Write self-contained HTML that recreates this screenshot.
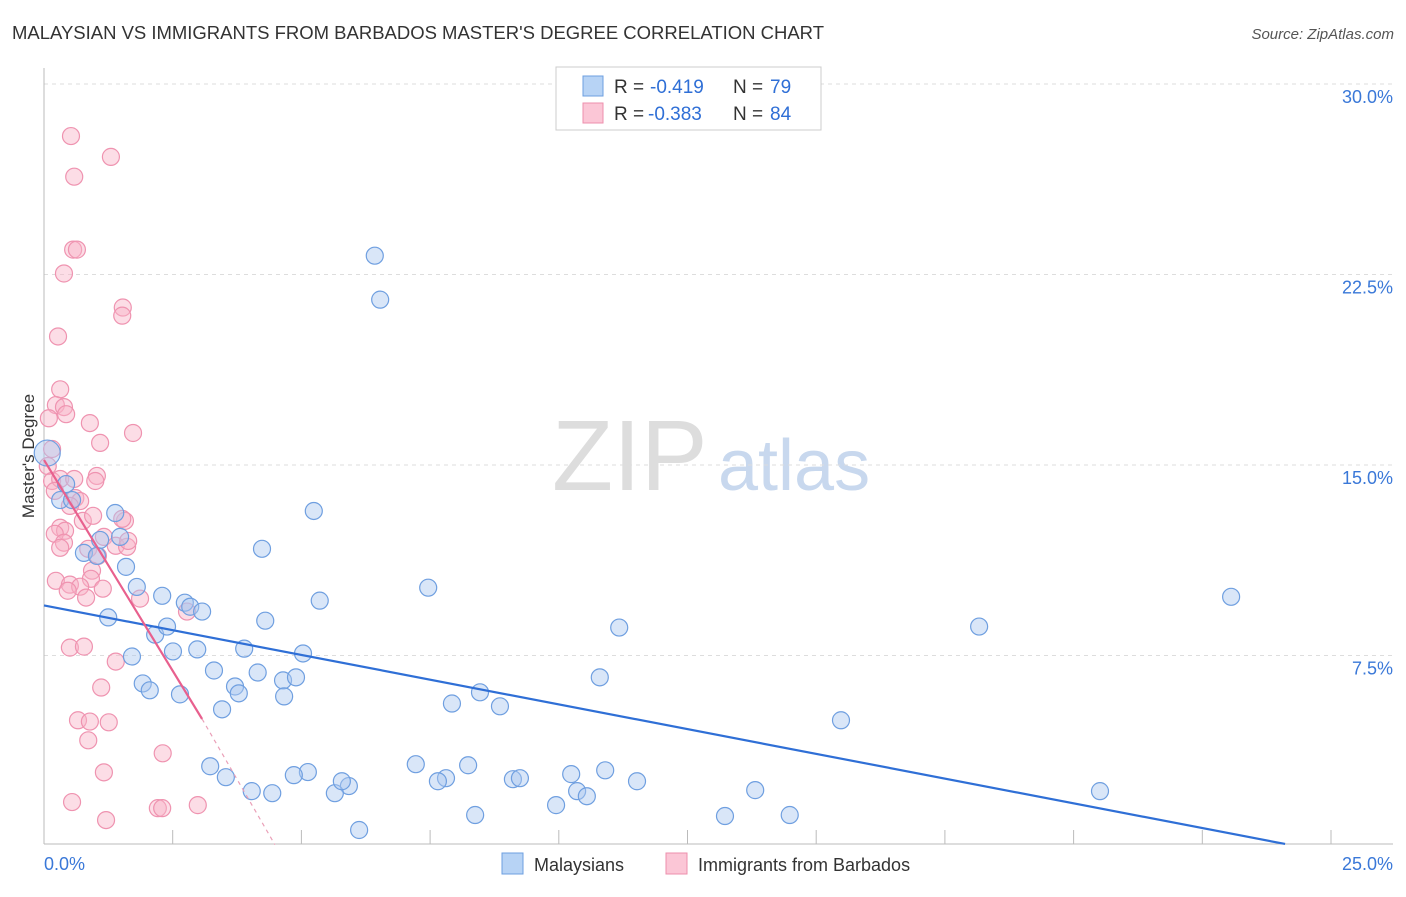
<!DOCTYPE html>
<html><head><meta charset="utf-8">
<style>
body{margin:0;background:#fff;font-family:"Liberation Sans",sans-serif;}
svg text{font-family:"Liberation Sans",sans-serif;}
</style></head>
<body>
<svg id="chart" width="1406" height="892" viewBox="0 0 1406 892" xmlns="http://www.w3.org/2000/svg">
<text x="12" y="39" font-size="18.5" fill="#333" textLength="812">MALAYSIAN VS IMMIGRANTS FROM BARBADOS MASTER'S DEGREE CORRELATION CHART</text>
<text x="1394" y="39" font-size="15" fill="#555" text-anchor="end" font-style="italic">Source: ZipAtlas.com</text>
<g>
<text x="552" y="490" font-size="100" fill="#ddd" font-family="Liberation Serif, serif">ZIP</text>
<text x="718" y="490" font-size="72" fill="#c8d8ee">atlas</text>
</g>
<g id="grid"></g>
<g id="axes"></g>
<g id="pink"></g>
<g id="blue"></g>
<g id="trends"></g>
<text transform="translate(34,456) rotate(-90)" font-size="17" fill="#333" text-anchor="middle">Master's Degree</text>
<g>
<rect x="556" y="67" width="265" height="63" fill="#fff" stroke="#ccc"/>
<rect x="583" y="76" width="20" height="20" fill="#b7d3f5" stroke="#6c9fe0"/>
<rect x="583" y="103" width="20" height="20" fill="#fbc6d6" stroke="#ee8fac"/>
<text y="93" font-size="19" fill="#333"><tspan x="614">R =</tspan><tspan x="650" fill="#2f6fd6">-0.419</tspan><tspan x="733">N =</tspan><tspan x="770" fill="#2f6fd6">79</tspan></text>
<text y="120" font-size="19" fill="#333"><tspan x="614">R =</tspan><tspan x="648" fill="#2f6fd6">-0.383</tspan><tspan x="733">N =</tspan><tspan x="770" fill="#2f6fd6">84</tspan></text>
</g>
<g>
<rect x="502" y="853" width="21" height="21" fill="#b7d3f5" stroke="#6c9fe0"/>
<text x="534" y="871" font-size="18" fill="#333">Malaysians</text>
<rect x="666" y="853" width="21" height="21" fill="#fbc6d6" stroke="#ee8fac"/>
<text x="698" y="871" font-size="18" fill="#333">Immigrants from Barbados</text>
</g>
</svg>
<script>
const yTicks=[7.5,15,22.5,30];
const yTickLabels=["7.5%","15.0%","22.5%","30.0%"];
const xTickValues=[0,2.385,4.77,7.155,9.54,11.925,14.31,16.695,19.08,21.465,23.85];
const blueX=[0.06,6.13,6.23,5.0,4.04,7.12,10.66,17.33,22.0,1.32,0.41,0.3,0.52,0.74,0.98,1.04,1.41,1.52,1.72,2.19,1.19,2.06,2.28,2.61,2.71,2.93,4.1,5.11,2.39,2.84,3.71,1.63,4.8,1.83,1.96,2.52,3.15,3.54,3.61,3.96,4.43,4.67,4.45,3.3,10.3,8.08,7.56,8.45,14.77,3.08,4.89,5.65,5.39,6.89,7.45,7.86,8.69,8.82,9.77,10.4,10.99,13.18,3.37,3.85,4.23,4.63,5.52,7.3,9.49,9.88,10.06,7.99,5.84,12.62,13.82,19.57];
const blueY=[15.47,23.24,21.51,13.19,11.7,10.17,8.6,8.64,9.81,13.11,14.25,13.62,13.62,11.54,11.42,12.05,12.17,10.99,10.2,9.85,9.0,8.32,8.64,9.58,9.42,9.23,8.87,9.66,7.66,7.74,7.77,7.46,7.58,6.4,6.13,5.97,6.91,6.28,6.01,6.83,6.52,6.64,5.89,5.38,6.64,6.05,5.61,5.5,4.95,3.14,2.91,2.36,2.08,3.22,2.67,3.18,2.63,2.67,2.83,2.98,2.55,2.2,2.71,2.16,2.08,2.79,2.55,2.55,1.61,2.16,1.96,1.22,0.63,1.18,1.22,2.16];
const pinkX=[0.5,1.24,0.56,0.54,0.61,0.37,1.46,1.45,0.26,0.3,0.22,0.37,0.41,0.09,0.85,1.65,1.04,0.15,0.07,0.15,0.3,0.2,0.56,0.98,0.95,0.58,0.67,0.48,0.72,0.91,1.5,1.45,0.3,0.39,0.2,0.37,0.3,1.11,1.33,1.54,1.56,0.82,1.0,0.89,0.87,0.22,0.48,0.67,1.09,1.78,2.65,0.44,0.78,0.48,0.74,1.33,1.06,0.63,0.85,1.2,0.82,2.2,1.11,0.52,2.11,2.19,2.85,1.15];
const pinkY=[27.95,27.13,26.35,23.48,23.48,22.54,21.2,20.88,20.06,17.98,17.36,17.28,17.0,16.84,16.65,16.26,15.87,15.63,14.96,14.37,14.45,13.98,14.45,14.57,14.37,13.7,13.58,13.39,12.8,13.0,12.8,12.88,12.53,12.41,12.29,11.94,11.74,12.17,11.82,11.78,12.01,11.7,11.42,10.84,10.52,10.44,10.29,10.21,10.13,9.74,9.23,10.05,9.78,7.81,7.85,7.26,6.24,4.95,4.9,4.87,4.16,3.65,2.9,1.73,1.49,1.49,1.61,1.02];
const NS="http://www.w3.org/2000/svg";
const X0=44,X1=1393,Y0=846,Y1=84;
const xs=v=>X0+v/25*(X1-X0);
const ys=v=>Y0-v/30*(Y0-Y1);
function mk(tag,attrs,parent){const e=document.createElementNS(NS,tag);for(const k in attrs)e.setAttribute(k,attrs[k]);parent.appendChild(e);return e;}
const grid=document.getElementById('grid'),axes=document.getElementById('axes');
yTicks.forEach((t,i)=>{
 const l=mk('line',{x1:X0,x2:X1,y1:ys(t),y2:ys(t),stroke:'#ddd','stroke-dasharray':'4,4'},grid);
 
 
 const tx=mk('text',{x:1393,y:ys(t)+19,'font-size':18,fill:'#3a78d8','text-anchor':'end'},axes);
 tx.textContent=yTickLabels[i];
 
 
});
mk('line',{x1:X0,x2:X0,y1:68,y2:844,stroke:'#bbb'},axes);
mk('line',{x1:X0,x2:X1,y1:844,y2:844,stroke:'#bbb'},axes);
xTickValues.forEach(t=>{
 const l=mk('line',{x1:X0+t/2.385*128.7,x2:X0+t/2.385*128.7,y1:830,y2:844,stroke:'#bbb'},axes);
 
 
});
const xl0=mk('text',{x:44,y:870,'font-size':18,fill:'#3a78d8'},axes);xl0.textContent='0.0%';


const xl1=mk('text',{x:1393,y:870,'font-size':18,fill:'#3a78d8','text-anchor':'end'},axes);xl1.textContent='25.0%';


const pg=document.getElementById('pink'),bg=document.getElementById('blue');
pinkX.forEach((v,i)=>{const c=mk('circle',{cx:xs(v),cy:ys(pinkY[i]),r:8.5,fill:'rgba(248,180,200,0.45)',stroke:'#ef93b0','stroke-width':1.2},pg);
 
 });
blueX.forEach((v,i)=>{const c=mk('circle',{cx:xs(v),cy:ys(blueY[i]),r:i==0?13:8.5,fill:'rgba(170,200,240,0.45)',stroke:'#6f9fe0','stroke-width':1.2},bg);
 
 });
const tg=document.getElementById('trends');
const bt=mk('line',{x1:xs(0),y1:ys(9.47),x2:xs(23.0),y2:ys(0.08),stroke:'#2f6fd6','stroke-width':2.2},tg);


const pt=mk('line',{x1:xs(0),y1:ys(15.2),x2:xs(2.93),y2:ys(5.0),stroke:'#e8608e','stroke-width':2.2},tg);


const pd=mk('line',{x1:xs(2.93),y1:ys(5.0),x2:xs(4.28),y2:ys(0.05),stroke:'#eaa0b8','stroke-width':1.2,'stroke-dasharray':'4,4'},tg);


</script>
</body></html>
